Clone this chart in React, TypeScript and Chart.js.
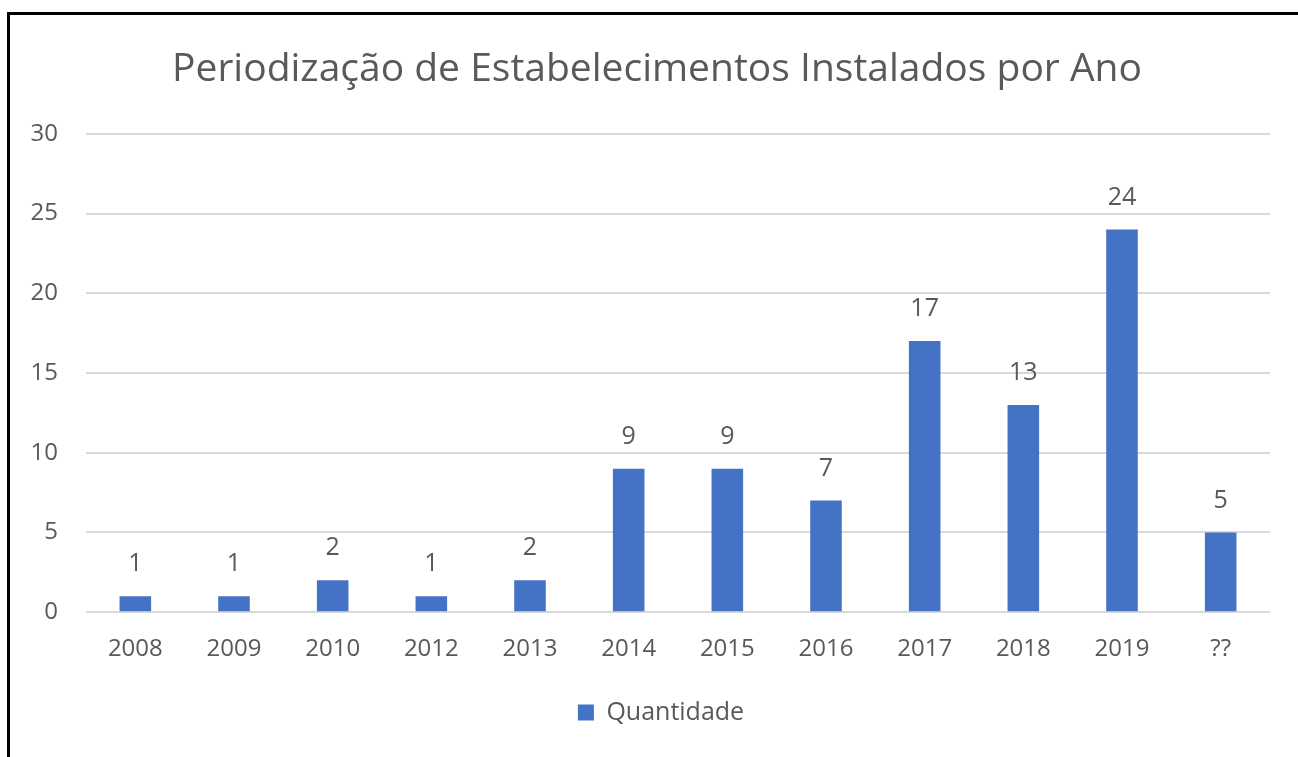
import React, { useEffect, useRef } from "react";
import { Chart, registerables } from "chart.js";

Chart.register(...registerables);

const categories = ["2008", "2009", "2010", "2012", "2013", "2014", "2015", "2016", "2017", "2018", "2019", "??"];
const quantidade = [1, 1, 2, 1, 2, 9, 9, 7, 17, 13, 24, 5];
const yTicks = [0, 5, 10, 15, 20, 25, 30];

const FONT = "'Open Sans', 'Noto Sans', sans-serif";
const TEXT = "#595959";
const BAR = "#4472C4";

const valueLabels = {
  id: "valueLabels",
  afterLayout(chart: any) {
    // centre title and legend over the same span as in the reference
    if (chart.titleBlock) {
      chart.titleBlock.left = 44;
    }
    if (chart.legend) {
      chart.legend.left += 42;
    }
  },
  afterDatasetsDraw(chart: any) {
    const ctx = chart.ctx;
    const meta = chart.getDatasetMeta(0);
    ctx.save();
    ctx.font = `25px ${FONT}`;
    ctx.fillStyle = TEXT;
    ctx.textAlign = "center";
    ctx.textBaseline = "middle";
    meta.data.forEach((bar: any, i: number) => {
      ctx.fillText(String(chart.data.datasets[0].data[i]), bar.x, bar.y - 32);
    });
    ctx.restore();
  },
};

export default function App() {
  const ref = useRef<HTMLCanvasElement | null>(null);
  useEffect(() => {
    if (!ref.current) return;
    const chart = new Chart(ref.current, {
      type: "bar",
      data: {
        labels: categories,
        datasets: [
          {
            label: "Quantidade",
            data: quantidade,
            backgroundColor: BAR,
            borderWidth: 0,
            categoryPercentage: 1,
            barPercentage: 0.32,
          },
        ],
      },
      options: {
        animation: false,
        responsive: false,
        maintainAspectRatio: false,
        layout: { padding: { left: 10, right: 28, top: 0, bottom: 22 } },
        plugins: {
          title: {
            display: true,
            text: "Periodização de Estabelecimentos Instalados por Ano",
            color: TEXT,
            font: { family: FONT, size: 39, weight: "normal" },
            padding: { top: 46, bottom: 41 },
          },
          legend: {
            position: "bottom",
            labels: {
              color: TEXT,
              font: { family: FONT, size: 25 },
              boxWidth: 16,
              boxHeight: 16,
              padding: 10,
            },
          },
          tooltip: { enabled: false },
        },
        scales: {
          x: {
            grid: { display: false, drawTicks: false },
            border: { display: false },
            afterFit: (s: any) => { s.height += 3; },
            ticks: { color: TEXT, font: { family: FONT, size: 24 }, padding: 23 },
          },
          y: {
            min: 0,
            max: 30,
            afterFit: (s: any) => { s.width = 76; },
            afterBuildTicks: (s: any) => { s.ticks = yTicks.map((v) => ({ value: v })); },
            grid: { color: "#d9d9d9", lineWidth: 2, drawTicks: false },
            border: { display: false },
            ticks: { color: TEXT, font: { family: FONT, size: 24 }, padding: 28 },
          },
        },
      },
      plugins: [valueLabels],
    });
    return () => chart.destroy();
  }, []);
  return (
    <div style={{ position: "fixed", left: 0, top: 0, width: 1298, height: 757, background: "#fff" }}>
      <canvas ref={ref} width={1298} height={757} style={{ position: "absolute", left: 0, top: 0, width: 1298, height: 757 }} />
      <div
        style={{
          position: "absolute",
          left: 7,
          top: 12,
          right: -10,
          bottom: -10,
          borderLeft: "3px solid #000",
          borderTop: "3px solid #000",
          pointerEvents: "none",
        }}
      />
    </div>
  );
}
